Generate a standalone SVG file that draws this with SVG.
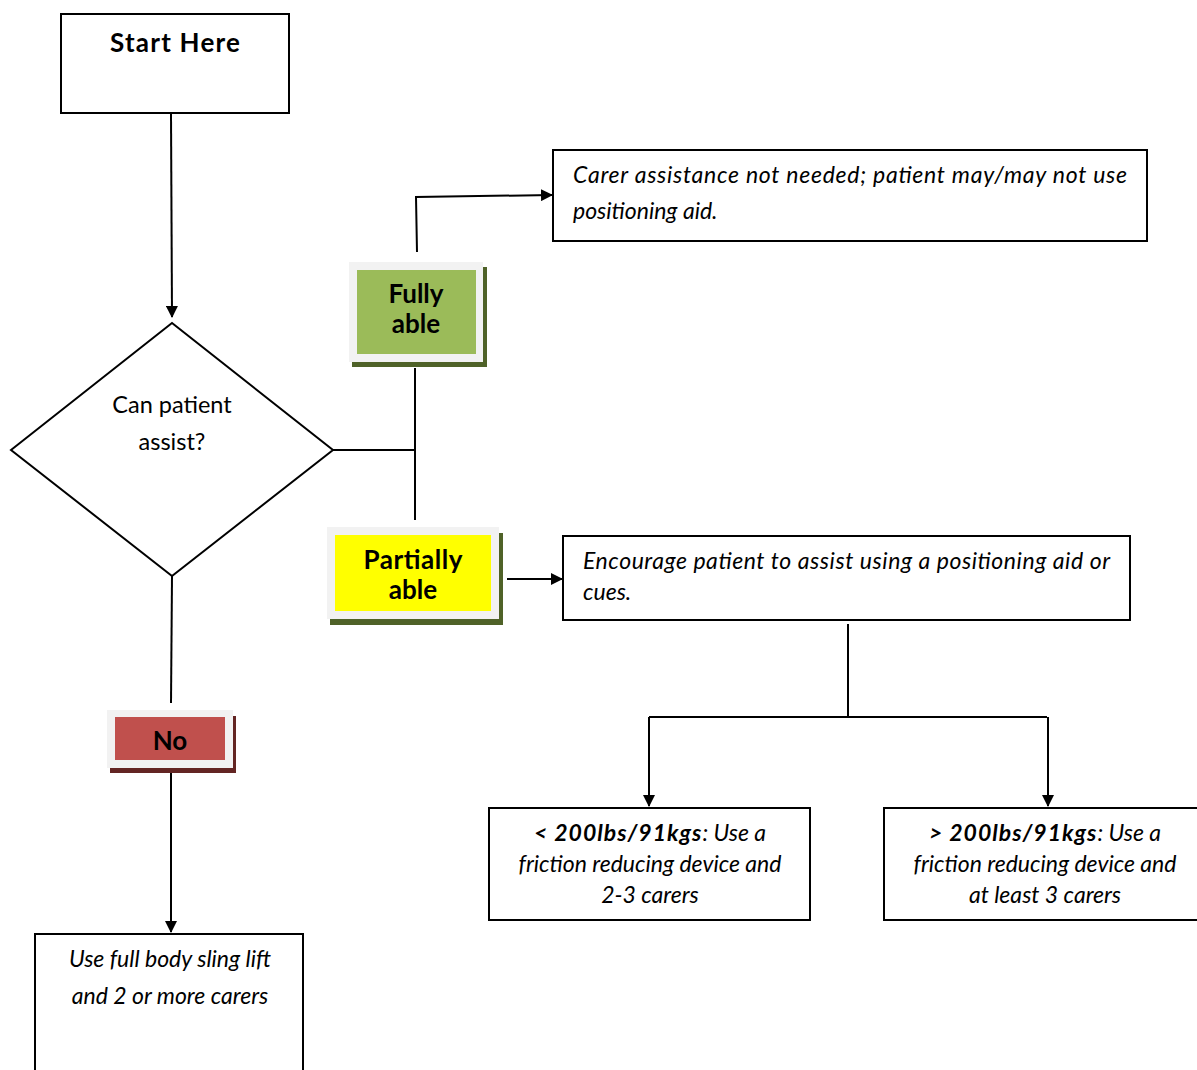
<svg xmlns="http://www.w3.org/2000/svg" width="1197" height="1070" viewBox="0 0 1197 1070">
<defs>
<marker id="ah" markerWidth="12" markerHeight="12" refX="11" refY="6" orient="auto" markerUnits="userSpaceOnUse">
<path d="M0,0 L12,6 L0,12 Z" fill="#000"/>
</marker>
<style>
.box{fill:#fff;stroke:#000;stroke-width:2}
.ln{fill:none;stroke:#000;stroke-width:2}
.t{font-family:Lato,"Liberation Sans",sans-serif;fill:#000}
.it{font-style:italic;font-size:23px}
.bl{font-weight:bold;font-size:26px}
.frame{fill:#F2F2F2}
</style>
</defs>
<rect width="1197" height="1070" fill="#fff"/>
<g id="connectors">
<line class="ln" x1="171" y1="114" x2="172" y2="317" marker-end="url(#ah)"/>
<polyline class="ln" points="333,450 415,450"/>
<line class="ln" x1="415" y1="368" x2="415" y2="520"/>
<polyline class="ln" points="417,252 416,197 552,195" marker-end="url(#ah)"/>
<line class="ln" x1="507" y1="579" x2="562" y2="579" marker-end="url(#ah)"/>
<line class="ln" x1="848" y1="624" x2="848" y2="717"/>
<line class="ln" x1="649" y1="717" x2="1047" y2="717"/>
<line class="ln" x1="649" y1="717" x2="649" y2="806" marker-end="url(#ah)"/>
<line class="ln" x1="1048" y1="717" x2="1048" y2="806" marker-end="url(#ah)"/>
<line class="ln" x1="172" y1="576" x2="171" y2="703"/>
<line class="ln" x1="171" y1="773" x2="171" y2="932" marker-end="url(#ah)"/>
</g>
<g id="start">
<rect class="box" x="61" y="14" width="228" height="99"/>
<text class="t" x="175" y="52" text-anchor="middle" font-weight="bold" font-size="26" textLength="130" lengthAdjust="spacing">Start Here</text>
</g>
<g id="decision">
<polygon class="box" points="11,450 172,323 333,450 172,576"/>
<text class="t" x="172" y="413" text-anchor="middle" font-size="23.5">Can patient</text>
<text class="t" x="172" y="450" text-anchor="middle" font-size="23.5">assist?</text>
</g>
<g id="fully">
<rect x="352" y="267" width="135" height="100" fill="#4F6228"/>
<rect class="frame" x="349" y="262" width="134" height="100"/>
<rect x="357" y="270" width="119" height="84" fill="#9BBB59"/>
<text class="t bl" x="416" y="303" text-anchor="middle">Fully</text>
<text class="t bl" x="416" y="333" text-anchor="middle">able</text>
</g>
<g id="partially">
<rect x="330" y="533" width="173" height="92" fill="#4F6228"/>
<rect class="frame" x="327" y="527" width="172" height="92"/>
<rect x="335" y="535" width="156" height="76" fill="#FFFF00"/>
<text class="t bl" x="413" y="569" text-anchor="middle" textLength="99" lengthAdjust="spacing">Partially</text>
<text class="t bl" x="413" y="599" text-anchor="middle">able</text>
</g>
<g id="no">
<rect x="110" y="716" width="126" height="57" fill="#632523"/>
<rect class="frame" x="107" y="710" width="126" height="58"/>
<rect x="115" y="717" width="110" height="43" fill="#C0504D"/>
<text class="t bl" x="170" y="750" text-anchor="middle">No</text>
</g>
<g id="carer">
<rect class="box" x="553" y="150" width="594" height="91"/>
<text class="t it" x="573" y="183" textLength="554" lengthAdjust="spacing">Carer assistance not needed; patient may/may not use</text>
<text class="t it" x="573" y="219">positioning aid.</text>
</g>
<g id="encourage">
<rect class="box" x="563" y="536" width="567" height="84"/>
<text class="t it" x="583" y="569" textLength="527" lengthAdjust="spacing">Encourage patient to assist using a positioning aid or</text>
<text class="t it" x="583" y="600">cues.</text>
</g>
<g id="under200">
<rect class="box" x="489" y="808" width="321" height="112"/>
<text class="t it" x="650" y="841" text-anchor="middle"><tspan font-weight="bold" letter-spacing="1">&lt; 200lbs/91kgs</tspan>: Use a</text>
<text class="t it" x="650" y="872" text-anchor="middle">friction reducing device and</text>
<text class="t it" x="650" y="903" text-anchor="middle">2-3 carers</text>
</g>
<g id="over200">
<rect class="box" x="884" y="808" width="320" height="112"/>
<text class="t it" x="1045" y="841" text-anchor="middle"><tspan font-weight="bold" letter-spacing="1">&gt; 200lbs/91kgs</tspan>: Use a</text>
<text class="t it" x="1045" y="872" text-anchor="middle">friction reducing device and</text>
<text class="t it" x="1045" y="903" text-anchor="middle">at least 3 carers</text>
</g>
<g id="sling">
<rect class="box" x="35" y="934" width="268" height="150"/>
<text class="t it" x="170" y="967" text-anchor="middle">Use full body sling lift</text>
<text class="t it" x="170" y="1004" text-anchor="middle">and 2 or more carers</text>
</g>
</svg>
